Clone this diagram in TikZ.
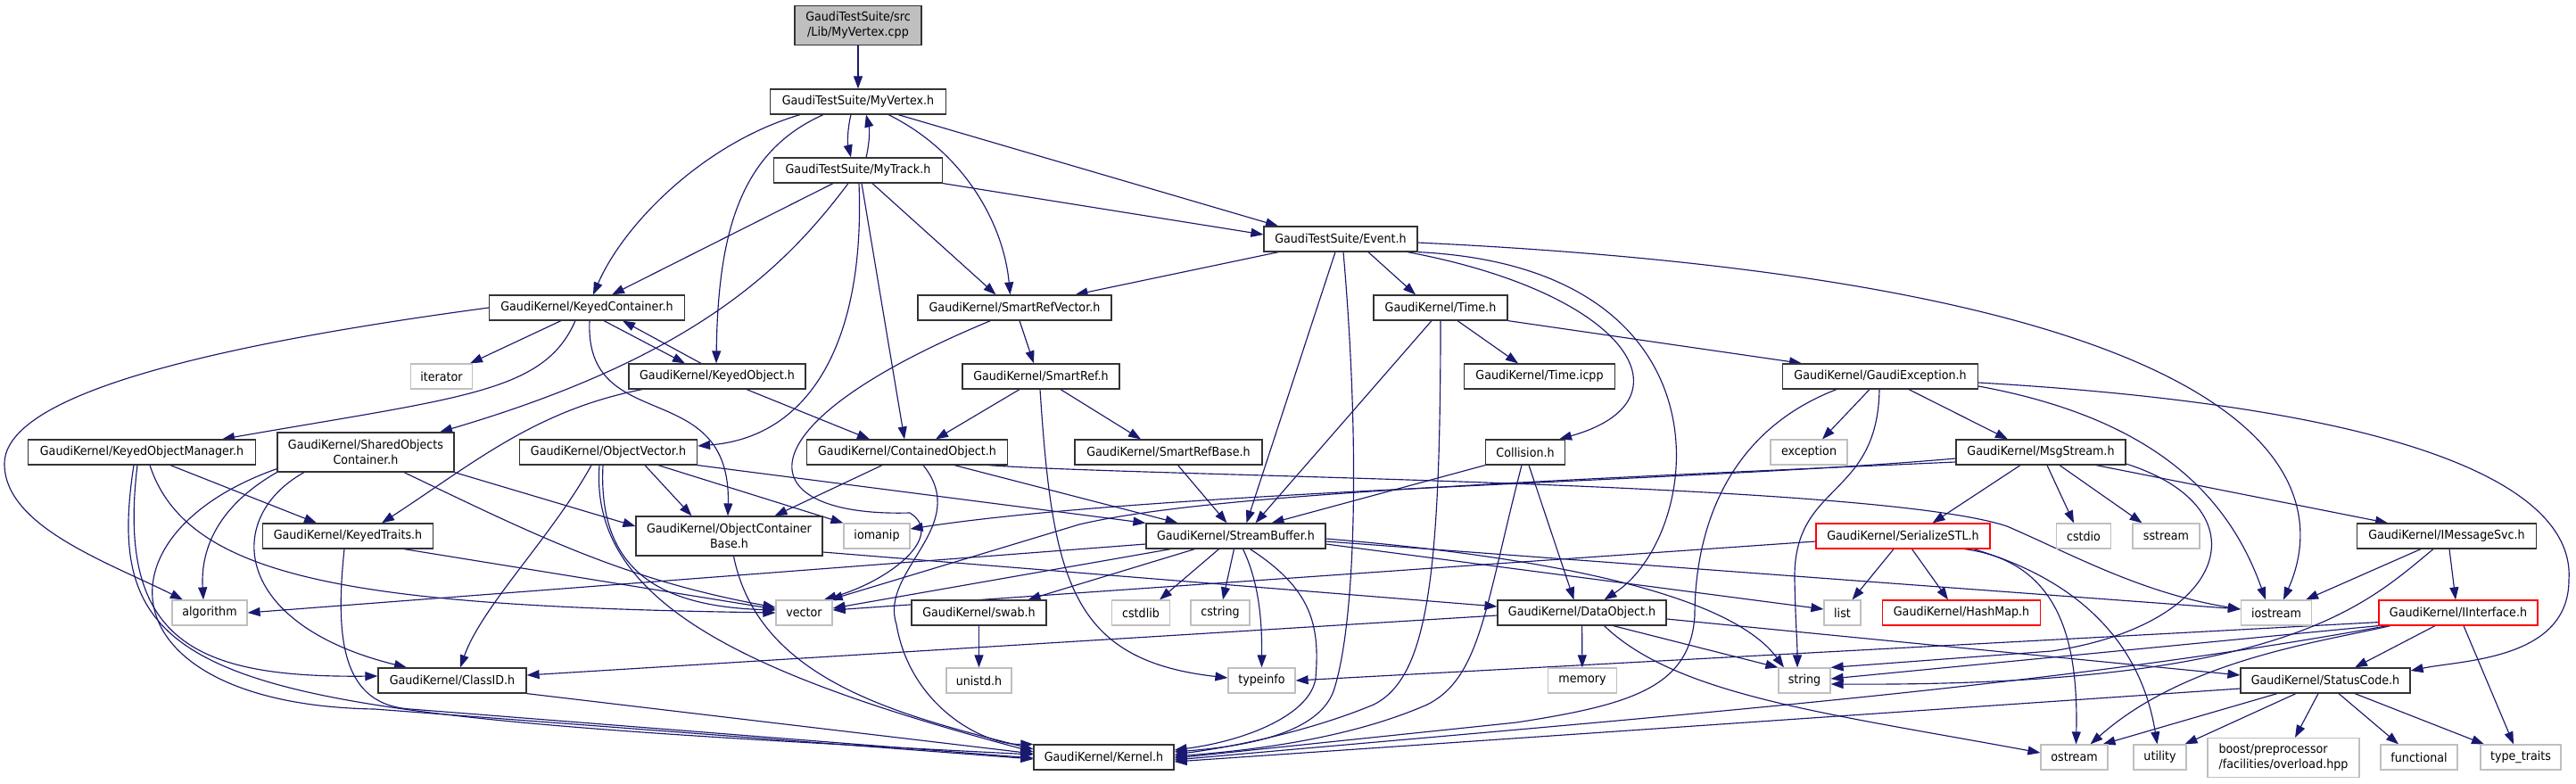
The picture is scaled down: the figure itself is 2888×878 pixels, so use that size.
\documentclass[tikz,border=0pt]{standalone}
\usepackage{fontspec}
\setmainfont{DejaVu Sans}[FakeStretch=0.92]
\usetikzlibrary{arrows.meta}
\pgfdeclarelayer{bg}
\pgfsetlayers{bg,main}
\definecolor{edgec}{HTML}{191970}
\definecolor{greyb}{HTML}{BFBFBF}
\definecolor{boxc}{HTML}{333333}
\newcommand{\gnfont}{\fontsize{13.8pt}{17pt}\selectfont}
\begin{document}
\begin{tikzpicture}[x=1pt,y=-1pt,
 box/.style={draw=boxc,line width=1.2pt,fill=white,inner sep=0pt,minimum height=28pt,font=\gnfont,text=black},
 gbox/.style={box,draw=greyb},
 rbox/.style={box,draw=red},
 tall/.style={minimum height=44pt,align=center},
 edge/.style={draw=edgec,line width=1.15pt,-{Triangle[length=14pt,width=10pt]}}]
\useasboundingbox (0,0) rectangle (2888,878);
% nodes
\node[box,tall,fill=greyb,minimum width=142pt] (cpp) at (962,28.5) {GaudiTestSuite/src\\/Lib/MyVertex.cpp};
\node[box,minimum width=197pt] (myvertex) at (962,114) {GaudiTestSuite/MyVertex.h};
\node[box,minimum width=189pt] (mytrack) at (962,191) {GaudiTestSuite/MyTrack.h};
\node[box,minimum width=172pt] (event) at (1503,268) {GaudiTestSuite/Event.h};
\node[box,minimum width=219pt] (keyedcont) at (658,345) {GaudiKernel/KeyedContainer.h};
\node[box,minimum width=217pt] (srv) at (1137.5,345) {GaudiKernel/SmartRefVector.h};
\node[box,minimum width=150pt] (timeh) at (1615,345) {GaudiKernel/Time.h};
\node[gbox,minimum width=69pt] (iterator) at (495,422) {iterator};
\node[box,minimum width=198pt] (keyedobj) at (804,422) {GaudiKernel/KeyedObject.h};
\node[box,minimum width=176pt] (smartref) at (1167,422) {GaudiKernel/SmartRef.h};
\node[box,minimum width=169pt] (timeicpp) at (1726,422) {GaudiKernel/Time.icpp};
\node[box,minimum width=219pt] (gexc) at (2108,422) {GaudiKernel/GaudiException.h};
\node[box,minimum width=255pt] (kom) at (159,507) {GaudiKernel/KeyedObjectManager.h};
\node[box,tall,minimum width=198pt] (soc) at (410,507) {GaudiKernel/SharedObjects\\Container.h};
\node[box,minimum width=199pt] (objvec) at (682,507) {GaudiKernel/ObjectVector.h};
\node[box,minimum width=225pt] (contobj) at (1017,507) {GaudiKernel/ContainedObject.h};
\node[box,minimum width=210pt] (srbase) at (1310,507) {GaudiKernel/SmartRefBase.h};
\node[box,minimum width=89pt] (collision) at (1710,507) {Collision.h};
\node[gbox,minimum width=86pt] (exception) at (2028,507) {exception};
\node[box,minimum width=190pt] (msgstream) at (2288,507) {GaudiKernel/MsgStream.h};
\node[box,minimum width=191pt] (keyedtraits) at (390,601) {GaudiKernel/KeyedTraits.h};
\node[box,tall,minimum width=209pt] (ocb) at (817.5,601) {GaudiKernel/ObjectContainer\\Base.h};
\node[gbox,minimum width=74pt] (iomanip) at (983,601) {iomanip};
\node[box,minimum width=201pt] (streambuf) at (1385.5,601) {GaudiKernel/StreamBuffer.h};
\node[rbox,minimum width=195pt] (serial) at (2133.5,601) {GaudiKernel/SerializeSTL.h};
\node[gbox,minimum width=61pt] (cstdio) at (2336,601) {cstdio};
\node[gbox,minimum width=75pt] (sstream) at (2428.5,601) {sstream};
\node[box,minimum width=201pt] (imsgsvc) at (2743,601) {GaudiKernel/IMessageSvc.h};
\node[gbox,minimum width=84pt] (algorithm) at (235,687) {algorithm};
\node[gbox,minimum width=63pt] (vector) at (901.5,687) {vector};
\node[box,minimum width=151pt] (swab) at (1097.5,687) {GaudiKernel/swab.h};
\node[gbox,minimum width=64.5pt] (cstdlib) at (1279,687) {cstdlib};
\node[gbox,minimum width=66pt] (cstring) at (1368,687) {cstring};
\node[box,minimum width=189pt] (datao) at (1773.5,687) {GaudiKernel/DataObject.h};
\node[gbox,minimum width=41pt] (list) at (2065.5,687) {list};
\node[rbox,minimum width=177pt] (hashmap) at (2199,687) {GaudiKernel/HashMap.h};
\node[gbox,minimum width=79pt] (iostream) at (2552,687) {iostream};
\node[rbox,minimum width=178pt] (iinterface) at (2756,687) {GaudiKernel/IInterface.h};
\node[box,minimum width=166pt] (classid) at (507,763) {GaudiKernel/ClassID.h};
\node[gbox,minimum width=73pt] (unistd) at (1097.5,763) {unistd.h};
\node[gbox,minimum width=75pt] (typeinfo) at (1414.5,763) {typeinfo};
\node[gbox,minimum width=76.5pt] (memory) at (1774,763) {memory};
\node[gbox,minimum width=58pt] (string) at (2023,763) {string};
\node[box,minimum width=190pt] (statuscode) at (2607,763) {GaudiKernel/StatusCode.h};
\node[box,minimum width=157pt] (kernel) at (1237.5,849) {GaudiKernel/Kernel.h};
\node[gbox,minimum width=75pt] (ostream) at (2325.5,849) {ostream};
\node[gbox,minimum width=59pt] (utility) at (2421.5,849) {utility};
\node[gbox,minimum width=170pt,minimum height=44pt,align=left] (boost) at (2560,849.5) {boost/preprocessor\\/facilities/overload.hpp};
\node[gbox,minimum width=86pt] (functional) at (2712,849) {functional};
\node[gbox,minimum width=90pt] (typetraits) at (2826,849) {type\_traits};
% edges
\begin{pgfonlayer}{bg}
\draw[edge] (cpp) -- (myvertex);
\draw[edge] ([xshift=-8pt]myvertex.south) .. controls (950,145) and (950,160) .. ([xshift=-8pt]mytrack.north);
\draw[edge] ([xshift=9pt]mytrack.north) .. controls (975,160) and (975,145) .. ([xshift=9pt]myvertex.south);
\draw[edge] ([xshift=-65pt]myvertex.south) .. controls (790,160) and (700,250) .. ([xshift=7pt]keyedcont.north);
\draw[edge] ([xshift=-39pt]myvertex.south) .. controls (830,170) and (805,260) .. ([xshift=-1pt]keyedobj.north);
\draw[edge] ([xshift=34pt]myvertex.south) .. controls (1080,170) and (1125,250) .. ([xshift=-5pt]srv.north);
\draw[edge] ([xshift=45pt]myvertex.south) -- ([xshift=-70pt]event.north);
\draw[edge] (mytrack.south east) -- ([yshift=5pt]event.west);
\draw[edge] ([xshift=-28pt]mytrack.south) -- ([xshift=28pt]keyedcont.north);
\draw[edge] ([xshift=-11pt]mytrack.south) .. controls (880,300) and (780,400) .. ([xshift=83pt]soc.north);
\draw[edge] ([xshift=1pt]mytrack.south) .. controls (970,380) and (910,490) .. ([yshift=7pt]objvec.east);
\draw[edge] ([xshift=4pt]mytrack.south) -- ([xshift=-3pt]contobj.north);
\draw[edge] ([xshift=16pt]mytrack.south) -- ([xshift=-21pt]srv.north);
\draw[edge] (event) -- ([xshift=68pt]srv.north);
\draw[edge] ([xshift=31pt]event.south) -- ([xshift=-28pt]timeh.north);
\draw[edge] ([xshift=75pt]event.south) .. controls (1830,330) and (1900,450) .. ([xshift=38pt]collision.north);
\draw[edge] (event.south east) .. controls (1950,300) and (1910,600) .. ([xshift=25pt]datao.north);
\draw[edge] ([xshift=-6pt]event.south) -- ([xshift=12pt]streambuf.north);
\draw[edge] ([xshift=3pt]event.south) .. controls (1525,500) and (1520,700) .. (1495,775) .. controls (1480,815) and (1420,835) .. ([yshift=6pt]kernel.east);
\draw[edge] ([yshift=-4pt]event.east) .. controls (2600,320) and (2610,560) .. ([xshift=8pt]iostream.north);
\draw[edge] (keyedcont.west) .. controls (250,385) and (5,440) .. (5,520) .. controls (5,590) and (120,630) .. ([xshift=-30pt]algorithm.north);
\draw[edge] ([xshift=-29pt]keyedcont.south) -- ([xshift=32pt]iterator.north);
\draw[edge] ([xshift=-13pt]keyedcont.south) .. controls (610,440) and (520,445) .. ([xshift=90pt]kom.north);
\draw[edge] ([xshift=19pt]keyedcont.south) -- ([xshift=-36pt]keyedobj.north);
\draw[edge] ([xshift=-18pt]keyedobj.north) -- ([xshift=40pt]keyedcont.south);
\draw[edge] ([xshift=3pt]keyedcont.south) .. controls (655,490) and (820,420) .. ([xshift=-1.5pt]ocb.north);
\draw[edge] ([xshift=-84pt]keyedobj.south) .. controls (600,460) and (530,520) .. ([xshift=38pt]keyedtraits.north);
\draw[edge] ([xshift=33pt]keyedobj.south) -- ([xshift=-42pt]contobj.north);
\draw[edge] ([xshift=32pt]kom.south) -- ([xshift=-35pt]keyedtraits.north);
\draw[edge] ([xshift=9pt]kom.south) .. controls (210,650) and (400,680) .. (vector.west);
\draw[edge] ([xshift=-5pt]kom.south) .. controls (130,720) and (220,760) .. ([yshift=5pt]classid.west);
\draw[edge] ([xshift=-9pt]kom.south) .. controls (110,780) and (250,800) .. ([yshift=3pt]kernel.west);
\draw[edge] (soc.south east) -- ([yshift=11pt]ocb.west);
\draw[edge] ([xshift=43pt]soc.south) .. controls (600,600) and (700,650) .. ([yshift=6pt]vector.west);
\draw[edge] ([xshift=-69pt]soc.south) .. controls (250,580) and (260,700) .. ([xshift=-51pt]classid.north);
\draw[edge] (soc.south west) .. controls (240,570) and (225,620) .. ([xshift=-7pt]algorithm.north);
\draw[edge] ([yshift=4pt]soc.south west) .. controls (100,600) and (120,790) .. (420,795) -- ([yshift=-2pt]kernel.west);
\draw[edge] ([xshift=63pt]keyedtraits.south) -- ([yshift=4pt]vector.west);
\draw[edge] ([xshift=-4pt]keyedtraits.south) .. controls (375,720) and (385,790) .. (460,795) -- ([yshift=-1pt]kernel.west);
\draw[edge] ([xshift=41pt]objvec.south) -- ([xshift=-42pt]ocb.north);
\draw[edge] ([xshift=56pt]objvec.south) -- (iomanip.north west);
\draw[edge] (objvec.south east) -- (streambuf.north west);
\draw[edge] ([xshift=-19pt]objvec.south) .. controls (620,600) and (540,680) .. ([xshift=9pt]classid.north);
\draw[edge] ([xshift=-6pt]objvec.south) .. controls (670,640) and (740,680) .. ([yshift=3pt]vector.west);
\draw[edge] ([xshift=-10pt]objvec.south) .. controls (660,680) and (850,760) .. ([yshift=6pt]kernel.west);
\draw[edge] ([xshift=5pt]ocb.south) .. controls (850,760) and (1000,800) .. ([yshift=9pt]kernel.west);
\draw[edge] ([yshift=-18pt]ocb.east) -- ([yshift=7pt]datao.west);
\draw[edge] ([xshift=-28pt]contobj.south) -- ([xshift=51pt]ocb.north);
\draw[edge] ([xshift=18pt]contobj.south) .. controls (1090,590) and (985,640) .. (1005,700) .. controls (1020,790) and (1100,835) .. (kernel.north west);
\draw[edge] ([xshift=53pt]contobj.south) -- ([xshift=-65pt]streambuf.north);
\draw[edge] ([xshift=91pt]contobj.south) .. controls (1300,535) and (2100,540) .. (2250,590) .. controls (2320,620) and (2400,665) .. ([yshift=4pt]iostream.west);
\draw[edge] ([xshift=5.5pt]srv.south) -- ([xshift=-8pt]smartref.north);
\draw[edge] ([xshift=-27pt]srv.south) .. controls (820,480) and (840,580) .. (1020,575) .. controls (1060,600) and (1000,650) .. ([xshift=-10pt]vector.north east);
\draw[edge] ([xshift=-24pt]smartref.south) -- ([xshift=32pt]contobj.north);
\draw[edge] ([xshift=22pt]smartref.south) -- ([xshift=-31pt]srbase.north);
\draw[edge] ([xshift=-1pt]smartref.south) .. controls (1180,650) and (1200,740) .. ([yshift=3pt]typeinfo.west);
\draw[edge] ([xshift=10.6pt]srbase.south) -- ([xshift=-10pt]streambuf.north);
\draw[edge] ([xshift=19pt]timeh.south) -- ([xshift=-24pt]timeicpp.north);
\draw[edge] (timeh.south east) -- ([xshift=-88pt]gexc.north);
\draw[edge] ([xshift=-10pt]timeh.south) -- ([xshift=22pt]streambuf.north);
\draw[edge] (timeh.south) .. controls (1615,650) and (1600,760) .. (1540,790) .. controls (1480,815) and (1400,835) .. ([yshift=3pt]kernel.east);
\draw[edge] (collision.south west) -- ([xshift=40pt]streambuf.north);
\draw[edge] ([xshift=-4pt]collision.south) .. controls (1665,680) and (1660,760) .. (1600,790) .. controls (1520,825) and (1420,840) .. ([yshift=1pt]kernel.east);
\draw[edge] ([xshift=4pt]collision.south) -- ([xshift=-9pt]datao.north);
\draw[edge] ([xshift=-12pt]gexc.south) -- ([xshift=15pt]exception.north);
\draw[edge] ([xshift=32pt]gexc.south) -- ([xshift=-37pt]msgstream.north);
\draw[edge] ([xshift=-49pt]gexc.south) .. controls (1920,490) and (1900,620) .. (1900,690) .. controls (1895,770) and (1830,790) .. (1700,810) -- ([yshift=-1pt]kernel.east);
\draw[edge] ([xshift=-1pt]gexc.south) .. controls (2105,560) and (2010,540) .. (2012,650) .. controls (2013,700) and (2015,720) .. ([xshift=-8pt]string.north);
\draw[edge] ([yshift=-11pt]gexc.east) .. controls (2420,470) and (2500,560) .. ([xshift=-12pt]iostream.north);
\draw[edge] ([yshift=-7pt]gexc.east) .. controls (2750,460) and (2886,560) .. (2880,650) .. controls (2880,740) and (2760,740) .. ([yshift=11pt]statuscode.east);
\draw[edge] ([xshift=-23pt]msgstream.south) -- ([xshift=33pt]serial.north);
\draw[edge] ([xshift=7pt]msgstream.south) -- ([xshift=-11pt]cstdio.north);
\draw[edge] ([xshift=21pt]msgstream.south) -- ([xshift=-27pt]sstream.north);
\draw[edge] ([xshift=62pt]msgstream.south) -- ([xshift=-66pt]imsgsvc.north);
\draw[edge] ([yshift=-7pt]msgstream.west) .. controls (1900,540) and (1300,550) .. ([yshift=8pt]iomanip.east);
\draw[edge] ([yshift=-11pt]msgstream.west) .. controls (1700,540) and (1350,555) .. (1210,588) -- ([xshift=-3pt]vector.north east);
\draw[edge] ([yshift=-13pt]msgstream.east) .. controls (2540,570) and (2500,700) .. (2300,730) -- (string.north east);
\draw[edge] ([yshift=-6pt]serial.west) -- ([yshift=3pt]vector.east);
\draw[edge] ([xshift=-10.5pt]serial.south) -- ([xshift=11pt]list.north);
\draw[edge] ([xshift=10pt]serial.south) -- ([xshift=-15pt]hashmap.north);
\draw[edge] ([xshift=69pt]serial.south) .. controls (2310,630) and (2330,720) .. ([xshift=2pt]ostream.north);
\draw[edge] ([xshift=79pt]serial.south) .. controls (2330,650) and (2400,720) .. ([xshift=-3pt]utility.north);
\draw[edge] ([xshift=-29pt]imsgsvc.south) -- ([xshift=33pt]iostream.north);
\draw[edge] ([xshift=3pt]imsgsvc.south) -- ([xshift=-3pt]iinterface.north);
\draw[edge] ([xshift=-15pt]imsgsvc.south) .. controls (2650,680) and (2560,770) .. ([yshift=-4pt]string.east);
\draw[edge] ([xshift=-26pt]iinterface.south) -- ([xshift=33pt]statuscode.north);
\draw[edge] ([xshift=6pt]iinterface.south) -- ([xshift=-8pt]typetraits.north);
\draw[edge] ([xshift=-76pt]iinterface.south) .. controls (2600,720) and (2450,740) .. ([xshift=18pt]ostream.north);
\draw[edge] (iinterface.south west) -- ([yshift=2pt]string.east);
\draw[edge] ([yshift=4pt]iinterface.south west) -- (typeinfo.east);
\draw[edge] ([xshift=10pt]iinterface.south west) .. controls (2300,770) and (1900,800) .. ([yshift=-3pt]kernel.east);
\draw[edge] ([yshift=-9pt]statuscode.west) -- ([yshift=-5pt]kernel.east);
\draw[edge] ([xshift=-54pt]statuscode.south) -- ([xshift=32pt]ostream.north);
\draw[edge] ([xshift=-33pt]statuscode.south) -- ([xshift=28pt]utility.north);
\draw[edge] ([xshift=-8pt]statuscode.south) -- ([xshift=13pt]boost.north);
\draw[edge] ([xshift=15pt]statuscode.south) -- ([xshift=-23pt]functional.north);
\draw[edge] ([xshift=33pt]statuscode.south) -- ([xshift=-41pt]typetraits.north);
\draw[edge] ([yshift=-3pt]datao.west) -- ([yshift=6pt]classid.east);
\draw[edge] (datao) -- (memory);
\draw[edge] ([xshift=35pt]datao.south) -- (string.north west);
\draw[edge] ([yshift=-7pt]datao.east) -- ([yshift=6pt]statuscode.west);
\draw[edge] ([xshift=25pt]datao.south) .. controls (1880,780) and (2050,800) .. ([yshift=5pt]ostream.west);
\draw[edge] ([yshift=-9pt]streambuf.west) -- (algorithm.east);
\draw[edge] ([xshift=-73pt]streambuf.south) -- ([yshift=5pt]vector.east);
\draw[edge] ([xshift=-46pt]streambuf.south) -- ([xshift=55pt]swab.north);
\draw[edge] ([xshift=-19pt]streambuf.south) -- ([xshift=21pt]cstdlib.north);
\draw[edge] ([xshift=-2pt]streambuf.south) -- ([xshift=3pt]cstring.north);
\draw[edge] ([xshift=8pt]streambuf.south) .. controls (1410,650) and (1415,690) .. (typeinfo.north);
\draw[edge] ([xshift=16pt]streambuf.south) .. controls (1470,660) and (1480,700) .. (1475,760) .. controls (1470,800) and (1400,830) .. ([yshift=8pt]kernel.east);
\draw[edge] ([yshift=-3pt]streambuf.east) .. controls (1800,630) and (1950,680) .. ([xshift=-23pt]string.north);
\draw[edge] ([yshift=-9pt]streambuf.east) -- ([yshift=4pt]list.west);
\draw[edge] ([yshift=-6pt]streambuf.east) -- ([yshift=4pt]iostream.west);
\draw[edge] (swab) -- (unistd);
\draw[edge] (classid.south east) -- ([yshift=4pt]kernel.west);
\end{pgfonlayer}
\end{tikzpicture}
\end{document}
